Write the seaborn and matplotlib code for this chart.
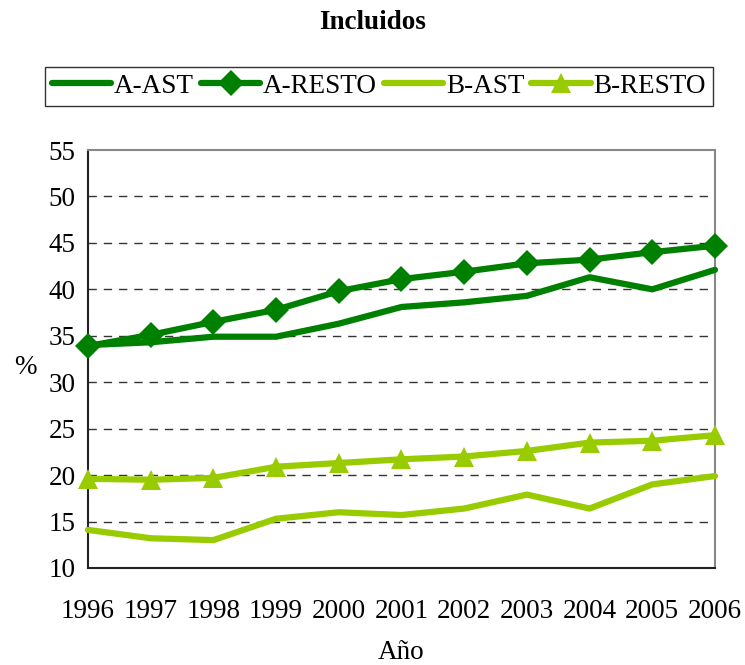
import pandas as pd
import matplotlib.pyplot as plt
import seaborn as sns

# Series
years = [1996, 1997, 1998, 1999, 2000, 2001, 2002, 2003, 2004, 2005, 2006]
a_ast = [34.0, 34.3, 34.9, 34.9, 36.3, 38.1, 38.6, 39.3, 41.3, 40.0, 42.1]
a_resto = [33.9, 35.1, 36.5, 37.8, 39.8, 41.1, 41.9, 42.8, 43.2, 44.0, 44.7]
b_ast = [14.1, 13.2, 13.0, 15.3, 16.0, 15.7, 16.4, 17.9, 16.4, 19.0, 19.9]
b_resto = [19.6, 19.5, 19.7, 20.9, 21.3, 21.7, 22.0, 22.6, 23.5, 23.7, 24.3]

DARK_GREEN = '#008000'
LIGHT_GREEN = '#99CC00'
FS = 19.5

sns.set_theme(style="white")
plt.rcParams['font.family'] = ['Liberation Serif', 'DejaVu Serif']
plt.rcParams['text.color'] = 'black'
plt.rcParams['axes.labelcolor'] = 'black'

df = pd.DataFrame({'year': years, 'A-AST': a_ast, 'A-RESTO': a_resto,
                   'B-AST': b_ast, 'B-RESTO': b_resto})

fig = plt.figure(figsize=(7.45, 6.65), dpi=100)
ax = fig.add_axes([0.1181, 0.1459, 0.8416, 0.6285])

series = [
    ('A-AST', DARK_GREEN, None, 0),
    ('A-RESTO', DARK_GREEN, 'D', 13),
    ('B-AST', LIGHT_GREEN, None, 0),
    ('B-RESTO', LIGHT_GREEN, '^', 14),
]
for name, color, marker, ms in series:
    sns.lineplot(data=df, x='year', y=name, ax=ax, color=color, linewidth=4.5,
                 marker=marker, markersize=ms, markeredgewidth=0,
                 label=name, clip_on=False, zorder=3)

ax.set_xlim(1996, 2006)
ax.set_ylim(10, 55)
ax.set_xticks(years)
ax.set_yticks(range(10, 56, 5))
ax.tick_params(axis='both', labelsize=FS, colors='black', length=6, width=1)
ax.tick_params(axis='y', direction='inout', length=12, pad=3)
ax.tick_params(axis='x', direction='out', length=10, pad=12)

for y in range(15, 55, 5):
    ax.axhline(y, color='#333333', linewidth=1, linestyle=(0, (6, 5)), zorder=1)

ax.spines['left'].set_color('#222222')
ax.spines['bottom'].set_color('#222222')
ax.spines['top'].set_color('#888888')
ax.spines['right'].set_color('#888888')
for s in ax.spines.values():
    s.set_linewidth(1.5)

ax.set_xlabel('Año', fontsize=FS, labelpad=12)
ax.set_ylabel('%', fontsize=FS, rotation=0, va='center')
ax.yaxis.set_label_coords(-0.1, 0.48)

fig.suptitle('Incluidos', fontsize=FS, fontweight='bold', y=0.985)

handles, labels = ax.get_legend_handles_labels()
ax.legend_.remove()
leg = fig.legend(handles, labels, loc='center', bbox_to_anchor=(0.5087, 0.870),
                 ncol=4, fontsize=FS, frameon=True, fancybox=False,
                 handlelength=2.2, handletextpad=0.1, columnspacing=0.25,
                 borderpad=0.25, borderaxespad=0)
leg.get_frame().set_edgecolor('black')
leg.get_frame().set_linewidth(1)

fig.savefig('out.png', dpi=100)
